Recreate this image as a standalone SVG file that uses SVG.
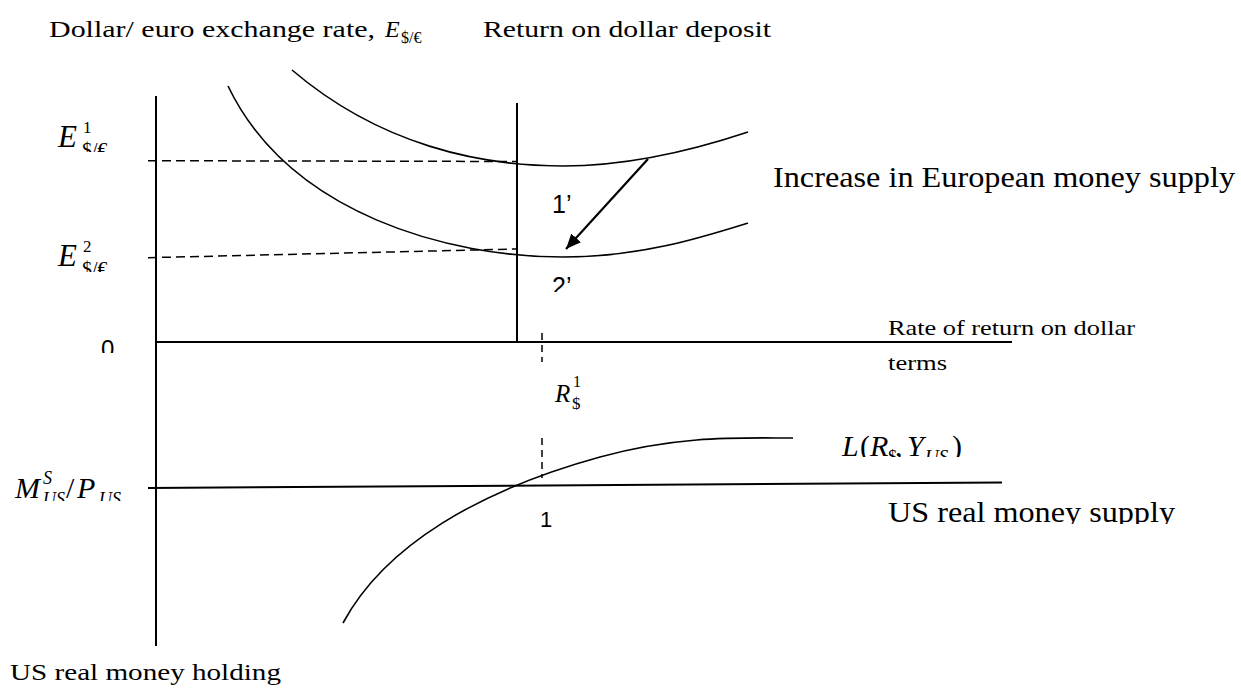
<svg xmlns="http://www.w3.org/2000/svg" width="1241" height="688" viewBox="0 0 1241 688">
<style>
.t{font-family:"Liberation Serif",serif;fill:#000}
.mi{font-family:"Liberation Serif",serif;font-style:italic;fill:#000}
.up{font-family:"Liberation Serif",serif;fill:#000}
.s{font-family:"Liberation Sans",sans-serif;fill:#000}
.ax{stroke:#000;stroke-width:2;fill:none}
.cv{stroke:#000;stroke-width:1.6;fill:none}
.ds{stroke:#000;stroke-width:1.5;fill:none;stroke-dasharray:9 5}
.dv{stroke:#000;stroke-width:1.5;fill:none;stroke-dasharray:7 5}
</style>
<defs>
<marker id="ah" markerUnits="userSpaceOnUse" markerWidth="16" markerHeight="13" refX="15" refY="6.5" orient="auto">
<path d="M0,0 L15,6.5 L0,13 z" fill="#000"/>
</marker>
<clipPath id="cE1"><rect x="0" y="100" width="150" height="52"/></clipPath>
<clipPath id="cE2"><rect x="0" y="220" width="150" height="52"/></clipPath>
<clipPath id="c0"><rect x="90" y="330" width="40" height="23"/></clipPath>
<clipPath id="c2p"><rect x="540" y="270" width="50" height="22"/></clipPath>
<clipPath id="cL"><rect x="830" y="420" width="150" height="37"/></clipPath>
<clipPath id="cUS"><rect x="880" y="490" width="320" height="34"/></clipPath>
<clipPath id="cM"><rect x="0" y="455" width="140" height="46"/></clipPath>
</defs>
<rect x="0" y="0" width="1241" height="688" fill="#fff"/>

<g id="axes">
<line class="ax" x1="156" y1="96" x2="156" y2="646"/>
<line class="ax" x1="157" y1="342" x2="1012" y2="342"/>
<line class="ax" x1="517" y1="103" x2="517" y2="342"/>
<line class="ax" x1="148" y1="488" x2="1002" y2="482.5"/>
</g>

<g id="guides">
<line class="ds" x1="148" y1="160.7" x2="517" y2="161.5"/>
<line class="ds" x1="148" y1="257.7" x2="517" y2="249"/>
<line class="dv" x1="542" y1="333" x2="542" y2="362"/>
<line class="dv" x1="542" y1="438" x2="542" y2="478"/>
</g>

<g id="curve-return-1">
<path class="cv" d="M292,70 C380,145 480,166 563,166 C630,166 700,148 748,132"/>
</g>
<g id="curve-return-2">
<path class="cv" d="M228,86 C290,215 450,257 563,257 C640,257 700,238 748,223"/>
</g>
<g id="curve-L">
<path class="cv" d="M343,623 C385,545 480,490 600,457 C680,435 740,438 793,438"/>
</g>

<g id="connectors">
<line x1="648" y1="159" x2="566" y2="249" stroke="#000" stroke-width="2.2" marker-end="url(#ah)"/>
</g>

<g id="title-left">
<text class="t" x="49" y="37" font-size="24" textLength="326" lengthAdjust="spacingAndGlyphs">Dollar/ euro exchange rate,</text>
<text class="mi" x="385" y="37" font-size="24">E</text>
<text class="up" x="401" y="43" font-size="16">$/€</text>
</g>
<g id="title-right">
<text class="t" x="483" y="37" font-size="24" textLength="288" lengthAdjust="spacingAndGlyphs">Return on dollar deposit</text>
</g>

<g id="label-E1" clip-path="url(#cE1)">
<text class="mi" x="58" y="147" font-size="31">E</text>
<text class="up" x="83" y="133" font-size="17">1</text>
<text class="up" x="82" y="157" font-size="20">$/€</text>
</g>
<g id="label-E2" clip-path="url(#cE2)">
<text class="mi" x="58" y="266" font-size="31">E</text>
<text class="up" x="83" y="252" font-size="17">2</text>
<text class="up" x="82" y="276" font-size="20">$/€</text>
</g>
<g id="label-0" clip-path="url(#c0)">
<text class="s" x="101" y="357" font-size="24">0</text>
</g>

<g id="label-1p"><text class="s" x="552" y="213" font-size="25">1’</text></g>
<g id="label-2p" clip-path="url(#c2p)"><text class="s" x="552" y="295" font-size="25">2’</text></g>

<g id="label-increase">
<text class="t" x="773" y="187" font-size="30" textLength="462" lengthAdjust="spacingAndGlyphs">Increase in European money supply</text>
</g>
<g id="label-rate">
<text class="t" x="888" y="335" font-size="22" textLength="247" lengthAdjust="spacingAndGlyphs">Rate of return on dollar</text>
<text class="t" x="888" y="370" font-size="22" textLength="59" lengthAdjust="spacingAndGlyphs">terms</text>
</g>

<g id="label-R">
<text class="mi" x="555" y="402" font-size="25">R</text>
<text class="up" x="573" y="387" font-size="16">1</text>
<text class="up" x="572" y="409" font-size="17">$</text>
</g>

<g id="label-L" clip-path="url(#cL)">
<text class="mi" x="842" y="456" font-size="30">L</text>
<text class="up" x="860" y="456" font-size="30">(</text>
<text class="mi" x="870" y="456" font-size="30">R</text>
<text class="up" x="888" y="463" font-size="18">$</text>
<text class="up" x="895" y="456" font-size="30">,</text>
<text class="mi" x="907" y="456" font-size="30">Y</text>
<text class="mi" x="925" y="463" font-size="19">US</text>
<text class="up" x="952" y="456" font-size="30">)</text>
</g>

<g id="label-M" clip-path="url(#cM)">
<text class="mi" x="15" y="498" font-size="30">M</text>
<text class="mi" x="43" y="484" font-size="18">S</text>
<text class="mi" x="43" y="505" font-size="18">US</text>
<text class="up" x="66" y="498" font-size="30">/</text>
<text class="mi" x="77" y="498" font-size="30">P</text>
<text class="mi" x="99" y="505" font-size="18">US</text>
</g>

<g id="label-supply" clip-path="url(#cUS)">
<text class="t" x="888" y="522" font-size="30" textLength="287" lengthAdjust="spacingAndGlyphs">US real money supply</text>
</g>
<g id="label-1"><text class="s" x="540" y="527" font-size="22">1</text></g>
<g id="label-holding">
<text class="t" x="10" y="680" font-size="24" textLength="271" lengthAdjust="spacingAndGlyphs">US real money holding</text>
</g>
</svg>
